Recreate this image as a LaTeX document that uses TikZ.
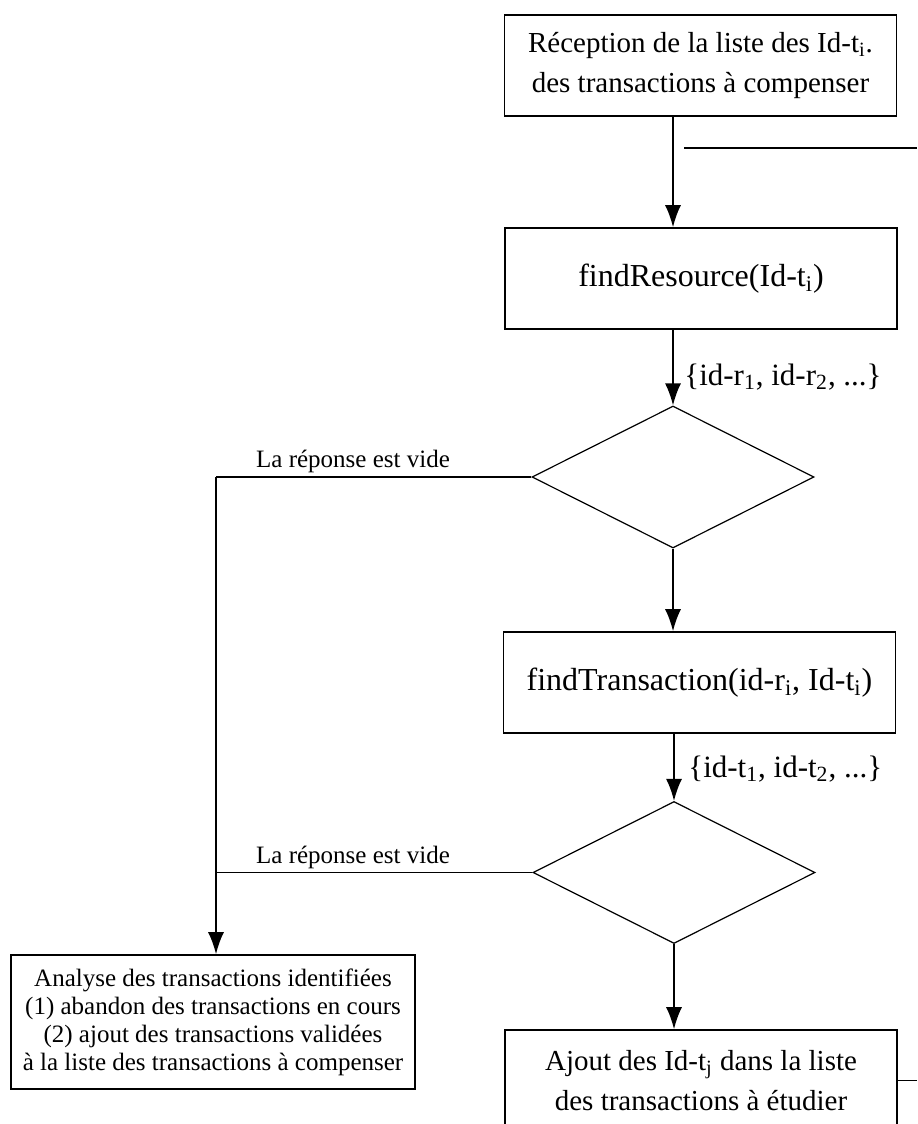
\documentclass[tikz,border=0pt]{standalone}
\usepackage{fontspec}
\setmainfont{Liberation Serif}
\usetikzlibrary{shapes.geometric,arrows.meta}

\begin{document}
\begin{tikzpicture}[x=0.5pt,y=-0.5pt,
  box/.style={draw,line width=0.8pt,minimum width=196pt,minimum height=50.5pt,inner sep=0pt,align=center,font=\fontsize{14.5}{20}\selectfont},
  bigbox/.style={box,font=\fontsize{16}{20}\selectfont},
  smallbox/.style={draw,line width=0.8pt,minimum width=202pt,minimum height=67pt,inner sep=0pt,align=center,font=\fontsize{12.5}{14}\selectfont},
  decision/.style={draw,shape=diamond,line width=0.6pt,minimum width=141pt,minimum height=71pt,inner sep=0pt},
  flow/.style={line width=0.8pt,-{Latex[length=11pt,width=8pt]}},
  lbl/.style={inner sep=0pt,font=\fontsize{15.5}{17}\selectfont},
  vide/.style={inner sep=0pt,font=\fontsize{12.5}{14}\selectfont}]
\useasboundingbox (0,0) rectangle (917,1124);
\node[box] (recep) at (700.5,65.5) {R\'eception de la liste des Id-t\textsubscript{i}.\\des transactions \`a compenser};
\node[bigbox] (findres) at (701,278.5) {findResource(Id-t\textsubscript{i})};
\node[decision] (d1) at (673,477) {};
\node[bigbox] (findtr) at (699.5,682.5) {findTransaction(id-r\textsubscript{i}, Id-t\textsubscript{i})};
\node[decision] (d2) at (674,872.5) {};
\node[smallbox] (analyse) at (213,1022) {Analyse des transactions identifi\'ees\\(1) abandon des transactions en cours\\(2) ajout des transactions valid\'ees\\\`a la liste des transactions \`a compenser};
\node[box] (ajout) at (701,1080.5) {Ajout des Id-t\textsubscript{j} dans la liste\\des transactions \`a \'etudier};

% main path
\draw[flow] (d1.north |- recep.south) -- (d1.north |- findres.north);
\draw[flow] (d1.north |- findres.south) -- (d1.north);
\draw[flow] (d1.south) -- (d1.south |- findtr.north);
\draw[flow] (d2.north |- findtr.south) -- (d2.north);
\draw[flow] (d2.south) -- (d2.south |- ajout.north);
\node[lbl,anchor=west] (setr) at (684,377) {\{id-r\textsubscript{1}, id-r\textsubscript{2}, ...\}};
\node[lbl,anchor=west] (sett) at (688,769) {\{id-t\textsubscript{1}, id-t\textsubscript{2}, ...\}};

% empty answers
\coordinate (joinA) at (216,477);
\draw[line width=0.8pt] (d1.west) -- (joinA);
\draw[flow] (joinA) -- (joinA |- analyse.north);
\draw[line width=0.8pt] (d2.west) -- (joinA |- d2.west);
\node[vide] (vide1) at (353,461) {La r\'eponse est vide};
\node[vide] (vide2) at (353,857) {La r\'eponse est vide};

% loop lines
\coordinate (loopstart) at (684,148);
\coordinate (loopin) at (917,148);
\draw[line width=0.8pt] (loopstart) -- (loopin);
\coordinate (loopout) at (917,1080.5);
\draw[line width=0.8pt] (ajout.east) -- (loopout);
\end{tikzpicture}
\end{document}
